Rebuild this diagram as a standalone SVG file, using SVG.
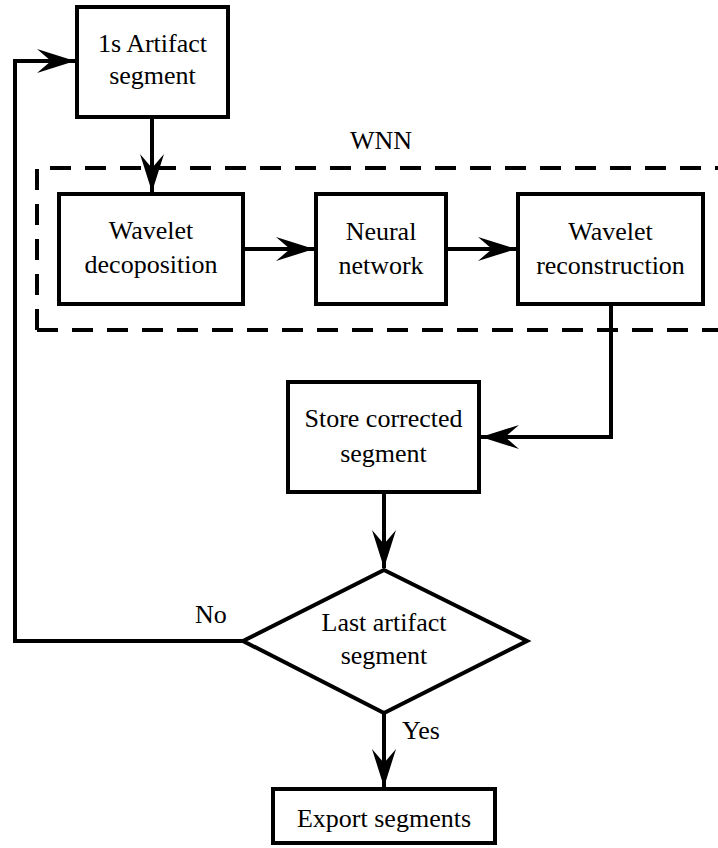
<svg xmlns="http://www.w3.org/2000/svg" width="718" height="848" viewBox="0 0 718 848">
  <style>
    .box { fill: #ffffff; stroke: #000000; stroke-width: 4; }
    .wire { fill: none; stroke: #000000; stroke-width: 4; }
    .group { fill: none; stroke: #000000; stroke-width: 4; stroke-dasharray: 21 14; }
    .t { font-family: 'Liberation Serif', 'DejaVu Serif', serif; font-size: 26px; fill: #000000; text-anchor: middle; }
    .lbl { text-anchor: start; }
  </style>
  <defs>
    <marker id="arrow" markerUnits="userSpaceOnUse" markerWidth="40" markerHeight="28" viewBox="-39 -14 40 28" refX="0" refY="0" orient="auto">
      <path d="M0,0 L-38,-12 L-24,0 L-38,12 Z" fill="#000000"/>
    </marker>
  </defs>

  <!-- WNN grouping frame (continues past the right edge) -->
  <g id="wnn">
    <path class="group" d="M37,330 L37,168 L760,168 M37,330 L760,330"/>
    <text class="t" x="381" y="149">WNN</text>
  </g>

  <!-- connectors -->
  <g id="connectors">
    <path class="wire" d="M152,117 L152,192" marker-end="url(#arrow)"/>
    <path class="wire" d="M243,249 L314,249" marker-end="url(#arrow)"/>
    <path class="wire" d="M446,249 L516,249" marker-end="url(#arrow)"/>
    <path class="wire" d="M611,304 L611,437 L481,437" marker-end="url(#arrow)"/>
    <path class="wire" d="M384,492 L384,568" marker-end="url(#arrow)"/>
    <path class="wire" d="M384,713 L384,787" marker-end="url(#arrow)"/>
    <path class="wire" d="M243,641 L15,641 L15,61 L75,61" marker-end="url(#arrow)"/>
    <text class="t lbl" x="195" y="623">No</text>
    <text class="t lbl" x="402" y="739">Yes</text>
  </g>

  <g id="artifact-segment">
    <rect class="box" x="77" y="7" width="151" height="110"/>
    <text class="t" x="152.5" y="52">1s Artifact</text>
    <text class="t" x="152.5" y="84">segment</text>
  </g>

  <g id="wavelet-decomposition">
    <rect class="box" x="59" y="194" width="184" height="110"/>
    <text class="t" x="151" y="239">Wavelet</text>
    <text class="t" x="151" y="273">decoposition</text>
  </g>

  <g id="neural-network">
    <rect class="box" x="316" y="194" width="130" height="110"/>
    <text class="t" x="381" y="240">Neural</text>
    <text class="t" x="381" y="274">network</text>
  </g>

  <g id="wavelet-reconstruction">
    <rect class="box" x="518" y="194" width="185" height="110"/>
    <text class="t" x="610.5" y="240">Wavelet</text>
    <text class="t" x="610.5" y="274">reconstruction</text>
  </g>

  <g id="store-segment">
    <rect class="box" x="288" y="382" width="191" height="110"/>
    <text class="t" x="383.5" y="427">Store corrected</text>
    <text class="t" x="383.5" y="462">segment</text>
  </g>

  <g id="last-segment">
    <polygon class="box" points="384,570 527,641 384,713 243,641"/>
    <text class="t" x="384" y="631">Last artifact</text>
    <text class="t" x="384" y="664">segment</text>
  </g>

  <g id="export-segments">
    <rect class="box" x="273" y="789" width="222" height="54"/>
    <text class="t" x="384" y="827">Export segments</text>
  </g>
</svg>
